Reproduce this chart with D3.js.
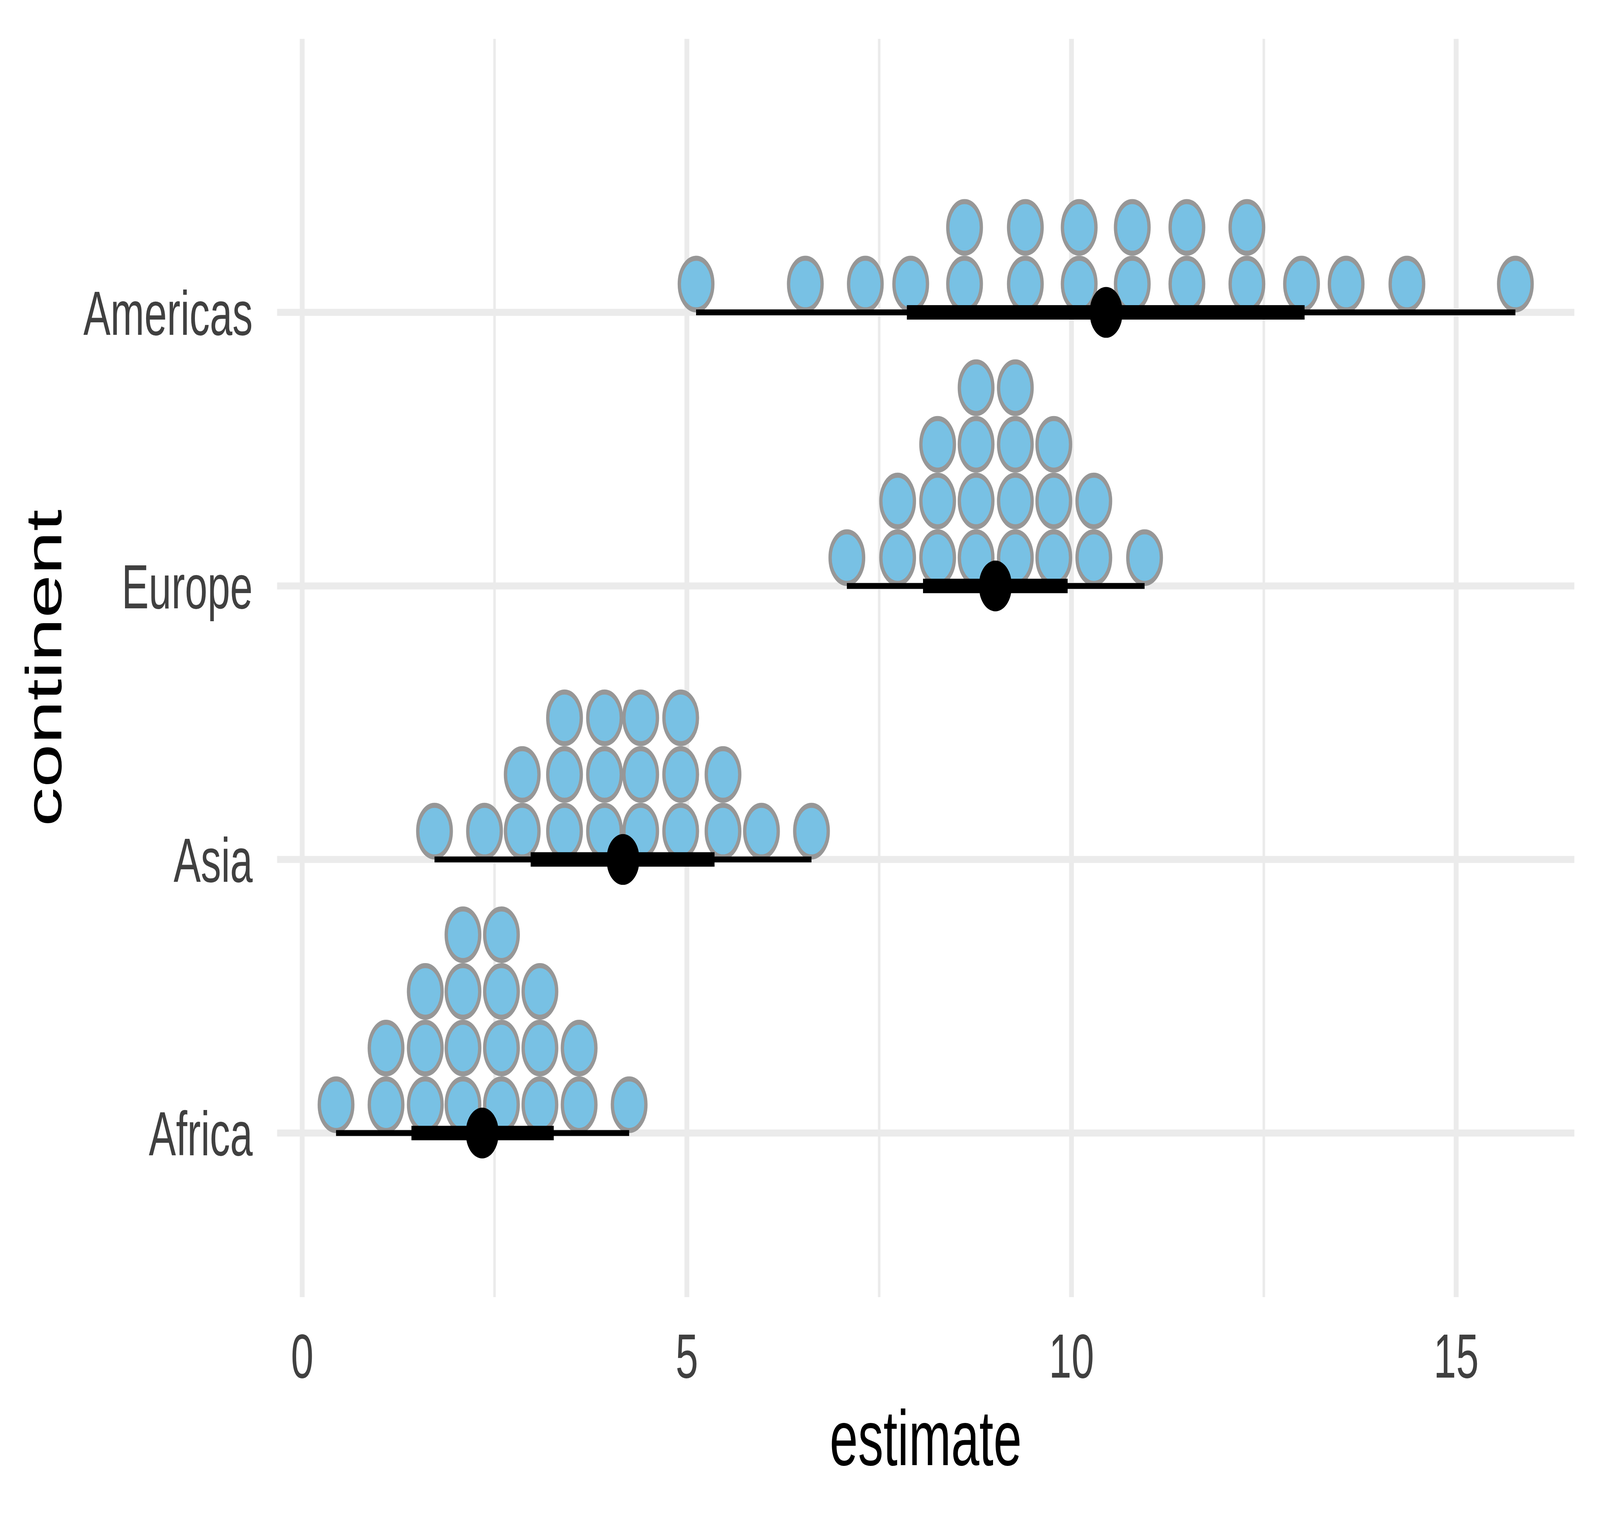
<!DOCTYPE html>
<html>
<head>
<meta charset="utf-8">
<script src="https://cdn.jsdelivr.net/npm/d3@7"></script>
<style>
  html, body { margin: 0; padding: 0; width: 100%; height: 100%; overflow: hidden; background: #ffffff; }
  #mainplot { width: 100%; height: 100%; }
  svg { display: block; }
</style>
</head>
<body>
<div id="mainplot"></div>
<script>
// categories, bottom to top
var continents = ["Africa", "Asia", "Europe", "Americas"];

// dot columns (bin centres) and how many dots are stacked in each
var dotsAfrica   = [0.44, 1.09, 1.60, 2.09, 2.59, 3.09, 3.60, 4.25];
var countAfrica  = [1, 2, 3, 4, 4, 3, 2, 1];
var dotsAsia     = [1.72, 2.37, 2.86, 3.41, 3.93, 4.40, 4.92, 5.47, 5.97, 6.62];
var countAsia    = [1, 1, 2, 3, 3, 3, 3, 2, 1, 1];
var dotsEurope   = [7.08, 7.74, 8.26, 8.76, 9.27, 9.77, 10.29, 10.95];
var countEurope  = [1, 2, 3, 4, 4, 3, 2, 1];
var dotsAmericas = [5.12, 6.54, 7.32, 7.91, 8.61, 9.40, 10.10, 10.79, 11.50, 12.28, 12.99, 13.57, 14.36, 15.77];
var countAmericas= [1, 1, 1, 1, 2, 2, 2, 2, 2, 2, 1, 1, 1, 1];

// point + interval summaries (same order as continents)
var medians = [2.34, 4.17, 9.01, 10.45];
var lower66 = [1.42, 2.97, 8.07, 7.86];
var upper66 = [3.27, 5.36, 9.95, 13.03];
var lower95 = [0.44, 1.72, 7.08, 5.12];
var upper95 = [4.25, 6.62, 10.95, 15.77];

var xTicks = [0, 5, 10, 15];
var xMinorTicks = [2.5, 7.5, 12.5];

var W = 6300, H = 3893;
var panel = {left: 1091, right: 6199, top: 99.5, bottom: 3320};
var dotD = 145;      // stacked dot spacing
var dotR = 66;
var tickColor = "#404040";

// drawn in a 6300x3893 coordinate box, stretched to fill the window
// (the browser window can come out narrower than asked)
var svg = d3.select('#mainplot').append('svg')
    .attr('viewBox', '0 0 ' + W + ' ' + H)
    .attr('preserveAspectRatio', 'none')
    .attr('width', '100%')
    .attr('height', '100%')
    .style('font-family', "'Liberation Sans', Arial, Helvetica, sans-serif");

// X scale, ggplot style 5% expansion of the data range
var xmin = d3.min(lower95), xmax = d3.max(upper95), xr = xmax - xmin;
var Xscale = d3.scaleLinear()
    .domain([xmin - 0.05 * xr, xmax + 0.05 * xr])
    .range([panel.left, panel.right]);

// Y scale on category index (1..4), room above for the dot stacks
var Yscale = d3.scaleLinear()
    .domain([0.4, 5.0])
    .range([panel.bottom, panel.top]);
function yOf(c){ return Yscale(continents.indexOf(c) + 1); }

// Grid
var grid = svg.append('g');
grid.selectAll('.minor').data(xMinorTicks).enter().append('line')
    .attr('x1', function(d){ return Xscale(d); })
    .attr('x2', function(d){ return Xscale(d); })
    .attr('y1', panel.top).attr('y2', panel.bottom)
    .style('stroke', '#EBEBEB').style('stroke-width', 10);
grid.selectAll('.major').data(xTicks).enter().append('line')
    .attr('x1', function(d){ return Xscale(d); })
    .attr('x2', function(d){ return Xscale(d); })
    .attr('y1', panel.top).attr('y2', panel.bottom)
    .style('stroke', '#EBEBEB').style('stroke-width', 19);
grid.selectAll('.hmajor').data(continents).enter().append('line')
    .attr('x1', panel.left).attr('x2', panel.right)
    .attr('y1', function(d){ return yOf(d); })
    .attr('y2', function(d){ return yOf(d); })
    .style('stroke', '#EBEBEB').style('stroke-width', 18);

// Dots
var dotSets = {
    "Africa":   [dotsAfrica, countAfrica],
    "Asia":     [dotsAsia, countAsia],
    "Europe":   [dotsEurope, countEurope],
    "Americas": [dotsAmericas, countAmericas]
};
var dots = [];
continents.forEach(function(c){
    var xs = dotSets[c][0], ns = dotSets[c][1];
    xs.forEach(function(x, i){
        for (var k = 0; k < ns[i]; k++) dots.push({c: c, x: x, k: k});
    });
});
svg.append('g').selectAll('circle').data(dots).enter().append('circle')
    .attr('cx', function(d){ return Xscale(d.x); })
    .attr('cy', function(d){ return yOf(d.c) - (d.k + 0.5) * dotD; })
    .attr('r', dotR)
    .style('fill', '#78C1E4')
    .style('stroke', '#979797')
    .style('stroke-width', 13);

// Intervals
var summ = svg.append('g');
summ.selectAll('.thin').data(continents).enter().append('line')
    .attr('x1', function(d, i){ return Xscale(lower95[i]); })
    .attr('x2', function(d, i){ return Xscale(upper95[i]); })
    .attr('y1', function(d){ return yOf(d); })
    .attr('y2', function(d){ return yOf(d); })
    .style('stroke', 'black').style('stroke-width', 15);
summ.selectAll('.thick').data(continents).enter().append('line')
    .attr('x1', function(d, i){ return Xscale(lower66[i]); })
    .attr('x2', function(d, i){ return Xscale(upper66[i]); })
    .attr('y1', function(d){ return yOf(d); })
    .attr('y2', function(d){ return yOf(d); })
    .style('stroke', 'black').style('stroke-width', 37);
summ.selectAll('circle').data(continents).enter().append('circle')
    .attr('cx', function(d, i){ return Xscale(medians[i]); })
    .attr('cy', function(d){ return yOf(d); })
    .attr('r', 65)
    .style('fill', 'black');

// Axis labels
svg.append('g').selectAll('text').data(xTicks).enter().append('text')
    .attr('x', function(d){ return Xscale(d); })
    .attr('y', 3526)
    .style('text-anchor', 'middle')
    .style('font-size', '160px')
    .style('fill', tickColor)
    .text(function(d){ return d; });

svg.append('g').selectAll('text').data(continents).enter().append('text')
    .attr('x', 995)
    .attr('y', function(d){ return yOf(d) + 57; })
    .style('text-anchor', 'end')
    .style('font-size', '160px')
    .style('fill', tickColor)
    .text(function(d){ return d; });

// Axis titles
svg.append('text')
    .attr('x', (panel.left + panel.right) / 2)
    .attr('y', 3750)
    .style('text-anchor', 'middle')
    .style('font-size', '200px')
    .style('fill', 'black')
    .text("estimate");

svg.append('text')
    .attr('transform', 'translate(242,' + (panel.top + panel.bottom) / 2 + ') rotate(-90)')
    .style('text-anchor', 'middle')
    .style('font-size', '200px')
    .style('fill', 'black')
    .text("continent");
</script>
</body>
</html>
